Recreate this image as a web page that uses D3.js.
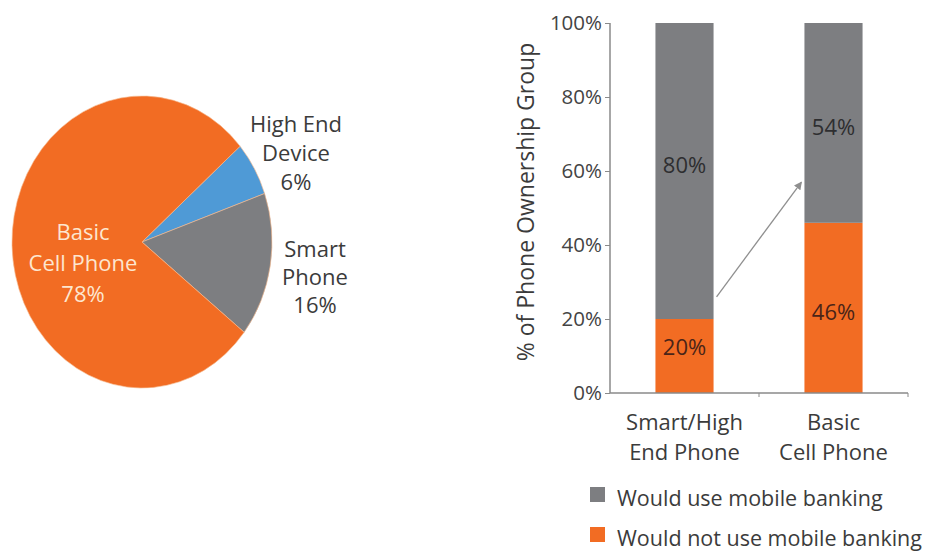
<!DOCTYPE html>
<html>
<head>
<meta charset="utf-8">
<script src="https://cdn.jsdelivr.net/npm/d3@7"></script>
<style>
  html, body { margin: 0; padding: 0; background: #fff; }
  svg { display: block; font-family: "Open Sans", "Liberation Sans", sans-serif; }
</style>
</head>
<body>
<svg id="chart" width="935" height="555"></svg>
<script>
// Phone ownership (pie)
const pieLabels = [["Basic", "Cell Phone"], ["High End", "Device"], ["Smart", "Phone"]];
const pieValues = [78, 6, 16];
const pieColors = ["#f26c23", "#4f9ad6", "#7d7e81"];

// Mobile banking by ownership group (stacked bars)
const barCategories = [["Smart/High", "End Phone"], ["Basic", "Cell Phone"]];
const wouldNotUse = [20, 46];
const wouldUse = [80, 54];
const yTicks = [0, 20, 40, 60, 80, 100];
const legendLabels = ["Would use mobile banking", "Would not use mobile banking"];
const seriesColors = { use: "#7d7e81", notUse: "#f26c23" };

const svg = d3.select("#chart");

// ---------- Pie ----------
const cx = 142, cy = 242, r = 130, squash = 146 / 130;
const startA = 49 * Math.PI / 180;
// clockwise from the upper right: high end, smart, basic
const order = [1, 2, 0];
const pie = d3.pie().sort(null).value(i => pieValues[i])
  .startAngle(startA).endAngle(startA + 2 * Math.PI);
const arcs = pie(order);
const arc = d3.arc().innerRadius(0).outerRadius(r);

const pieG = svg.append("g").attr("transform", `translate(${cx},${cy}) scale(1,${squash})`);
pieG.selectAll("path").data(arcs).enter().append("path")
  .attr("d", arc)
  .attr("fill", d => pieColors[d.data])
  .attr("stroke", "#f5b98f")
  .attr("stroke-width", 0.6);

// pie labels
const pieLabelPos = {
  0: { x: 83, y: 240, gap: 31, fill: "#fde6cf" },
  1: { x: 296, y: 132, gap: 29, fill: "#3b3b3b" },
  2: { x: 315, y: 257, gap: 28, fill: "#3b3b3b" }
};
[0, 1, 2].forEach(i => {
  const p = pieLabelPos[i];
  const t = svg.append("text")
    .attr("x", p.x).attr("y", p.y)
    .attr("text-anchor", "middle")
    .attr("font-size", 22)
    .attr("fill", p.fill);
  const lines = pieLabels[i].concat([pieValues[i] + "%"]);
  lines.forEach((ln, k) => {
    t.append("tspan").attr("x", p.x).attr("dy", k === 0 ? 0 : p.gap).text(ln);
  });
});

// ---------- Stacked bars ----------
const x = d3.scaleBand().domain([0, 1]).range([610, 908]).paddingInner(0.61).paddingOuter(0.305);
const y = d3.scaleLinear().domain([0, 100]).range([393, 23]);

const barG = svg.append("g");
const notUseLabelAt = [12.5, 22];
const useLabelAt = [61.5, 72];
[0, 1].forEach(i => {
  barG.append("rect")
    .attr("x", x(i)).attr("width", x.bandwidth())
    .attr("y", y(wouldNotUse[i])).attr("height", y(0) - y(wouldNotUse[i]))
    .attr("fill", seriesColors.notUse);
  barG.append("rect")
    .attr("x", x(i)).attr("width", x.bandwidth())
    .attr("y", y(wouldNotUse[i] + wouldUse[i])).attr("height", y(wouldNotUse[i]) - y(wouldNotUse[i] + wouldUse[i]))
    .attr("fill", seriesColors.use);
  // value labels
  const cxBar = x(i) + x.bandwidth() / 2;
  barG.append("text")
    .attr("x", cxBar).attr("y", y(notUseLabelAt[i]) + 8)
    .attr("text-anchor", "middle").attr("font-size", 22).attr("fill", "#4a2418")
    .text(wouldNotUse[i] + "%");
  barG.append("text")
    .attr("x", cxBar).attr("y", y(useLabelAt[i]) + 8)
    .attr("text-anchor", "middle").attr("font-size", 22).attr("fill", "#2e2e30")
    .text(wouldUse[i] + "%");
});

// y axis
const yAxis = d3.axisLeft(y).tickValues(yTicks).tickFormat(d => d + "%").tickSize(5).tickPadding(3);
const yg = svg.append("g").attr("transform", "translate(610,0)").call(yAxis);
yg.select(".domain").attr("stroke", "#8a8a8a").attr("stroke-width", 1.5).attr("d", "M0,23V393");
yg.selectAll(".tick line").attr("stroke", "#8a8a8a");
yg.selectAll(".tick text").attr("font-size", 20.5).attr("fill", "#444").attr("font-family", "Open Sans");

// x axis line with band ticks
const xLine = svg.append("g");
xLine.append("line").attr("x1", 610).attr("x2", 908).attr("y1", 393).attr("y2", 393)
  .attr("stroke", "#8a8a8a").attr("stroke-width", 1.5);
[x.range()[0] + x.step(), x.range()[1]].forEach(v => {
  xLine.append("line").attr("x1", v).attr("x2", v).attr("y1", 393).attr("y2", 397)
    .attr("stroke", "#8a8a8a").attr("stroke-width", 1);
});

// category labels
[0, 1].forEach(i => {
  const t = svg.append("text")
    .attr("x", x(i) + x.bandwidth() / 2).attr("y", 430)
    .attr("text-anchor", "middle").attr("font-size", 22).attr("fill", "#3b3b3b");
  barCategories[i].forEach((ln, k) => {
    t.append("tspan").attr("x", x(i) + x.bandwidth() / 2).attr("dy", k === 0 ? 0 : 30).text(ln);
  });
});

// y axis title
svg.append("text")
  .attr("transform", "translate(534,202) rotate(-90)")
  .attr("text-anchor", "middle").attr("font-size", 23).attr("fill", "#3b3b3b")
  .text("% of Phone Ownership Group");

// arrow from first group to second
svg.append("defs").append("marker")
  .attr("id", "arrowhead").attr("viewBox", "0 0 10 10").attr("refX", 9).attr("refY", 5)
  .attr("markerWidth", 8).attr("markerHeight", 8).attr("markerUnits", "userSpaceOnUse").attr("orient", "auto")
  .append("path").attr("d", "M0,0L10,5L0,10z").attr("fill", "#8f8f8f");
svg.append("line")
  .attr("x1", x(0) + x.bandwidth() + 3).attr("y1", y(26))
  .attr("x2", x(1) - 3).attr("y2", y(57))
  .attr("stroke", "#8f8f8f").attr("stroke-width", 1.3)
  .attr("marker-end", "url(#arrowhead)");

// legend
const legendColors = [seriesColors.use, seriesColors.notUse];
legendLabels.forEach((lab, i) => {
  const ly = 487 + i * 40;
  svg.append("rect").attr("x", 590).attr("y", ly).attr("width", 15).attr("height", 15)
    .attr("fill", legendColors[i]);
  svg.append("text").attr("x", 617).attr("y", ly + 19)
    .attr("font-size", 21.5).attr("fill", "#3b3b3b").text(lab);
});
</script>
</body>
</html>
